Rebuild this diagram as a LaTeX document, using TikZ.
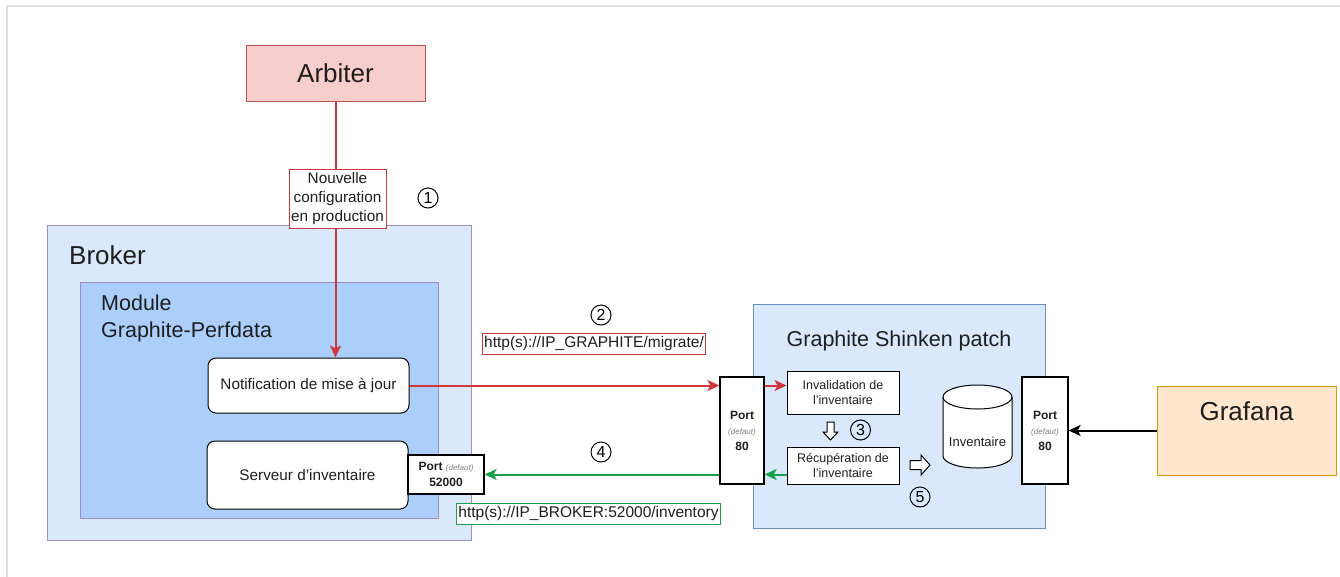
\documentclass[tikz,border=0pt]{standalone}
\usepackage{fontspec}
\setmainfont{Liberation Sans}
\usetikzlibrary{arrows.meta}

\definecolor{txt}{HTML}{1E1E1E}
\definecolor{framegray}{HTML}{E0E0E6}
\definecolor{redline}{HTML}{D0363B}
\definecolor{greenline}{HTML}{17A04C}
\definecolor{arbfill}{HTML}{F8CECC}
\definecolor{arbline}{HTML}{B85450}
\definecolor{brokfill}{HTML}{DAE8FC}
\definecolor{modfill}{HTML}{ABCEFB}
\definecolor{purp}{HTML}{A58BC4}
\definecolor{graphline}{HTML}{6C8EBF}
\definecolor{graffill}{HTML}{FFE6CC}
\definecolor{grafline}{HTML}{D79B00}

\newcommand{\fbig}{\fontsize{26}{31}\selectfont}
\newcommand{\fmid}{\fontsize{21.5}{27}\selectfont}
\newcommand{\fsmall}{\fontsize{15.3}{19}\selectfont}
\newcommand{\fstep}{\fontsize{12.5}{15}\selectfont}
\newcommand{\ptag}{\mdseries\itshape\color{gray}\fontsize{8}{10}\selectfont}

\begin{document}
\begin{tikzpicture}[x=1pt,y=-1pt,>={Stealth[length=12pt,width=11pt,inset=3pt]}]

    \tikzset{
      box/.style={draw, line width=1pt, inner sep=0pt, align=center, text=txt},
      roundbox/.style={box, draw=black, fill=white, rounded corners=8pt, font=\fsmall},
      plainbox/.style={box, draw=black, fill=white, font=\fstep},
      portbox/.style={box, draw=black, fill=white, line width=1.2pt, font=\bfseries\fontsize{12}{15.5}\selectfont},
      urlbox/.style={box, fill=white, inner xsep=2pt, minimum height=21pt, font=\fontsize{15.5}{18}\selectfont},
      num/.style={circle, draw=black, line width=1pt, minimum size=20pt, inner sep=0pt, font=\fontsize{16}{18}\selectfont},
      hollowarrow/.style={draw=black, fill=white, line width=1pt, line join=miter},
      redarrow/.style={draw=redline, line width=2pt, ->, color=redline},
      greenarrow/.style={draw=greenline, line width=2pt, ->, color=greenline},
    }
    \useasboundingbox (0,0) rectangle (1340,576);
    \draw[framegray, line width=2pt] (7,577) -- (7,6) -- (1341,6);

    % containers
    \node[box, draw=purp, fill=brokfill, minimum width=424pt, minimum height=315pt] (broker) at (259,382.5) {};
    \node[box, draw=purp, fill=modfill, minimum width=358pt, minimum height=236pt] (module) at (259,400) {};
    \node[box, draw=graphline, fill=brokfill, minimum width=292pt, minimum height=224pt] (graphite) at (899,416) {};
    \node[text=txt, font=\fbig, anchor=west, inner sep=0pt] (brokerlbl) at (69,255) {Broker};
    \node[text=txt, font=\fmid, anchor=north west, inner sep=0pt, align=left] (modulelbl) at (101,294.5) {Module\\Graphite-Perfdata};
    \node[text=txt, font=\fmid, inner sep=0pt] (graphitelbl) at (899,341) {Graphite Shinken patch};

    % boxes
    \node[box, draw=arbline, fill=arbfill, minimum width=179pt, minimum height=56pt, font=\fbig] (arb) at (335.5,73) {Arbiter};
    \node[roundbox, minimum width=201pt, minimum height=55pt] (notif) at (308.5,385.5) {Notification de mise à jour};
    \node[roundbox, minimum width=201pt, minimum height=68pt] (serv) at (307.5,475) {Serveur d'inventaire};
    \node[portbox, minimum width=76pt, minimum height=39pt] (p52) at (446,474.5) {Port {\ptag (defaut)}\\52000};
    \node[portbox, minimum width=44pt, minimum height=107pt] (p80a) at (742,430.5) {Port\\{\ptag (defaut)}\\80};
    \node[portbox, minimum width=46pt, minimum height=107pt] (p80b) at (1045,430.5) {Port\\{\ptag (defaut)}\\80};
    \node[plainbox, minimum width=112pt, minimum height=43pt] (inval) at (843,392.5) {Invalidation de\\l'inventaire};
    \node[plainbox, minimum width=112pt, minimum height=37pt] (recup) at (843,465.5) {Récupération de\\l'inventaire};
    % database drum
    \draw[black, fill=white, line width=1pt] (943,397) -- (943,456) arc (180:360:34.5pt and 12pt) -- (1012,397) arc (0:180:34.5pt and 12pt) -- cycle;
    \draw[black, line width=1pt] (943,397) arc (180:360:34.5pt and 12pt);
    \node[text=txt, font=\fontsize{13}{15}\selectfont, inner sep=0pt] (inv) at (977.5,442) {Inventaire};
    \node[box, draw=grafline, fill=graffill, minimum width=179pt, minimum height=89pt, text height=19pt, text depth=40pt, font=\fbig] (graf) at (1246.5,430.5) {Grafana};

    % flows
    \draw[redarrow] (arb) -- (arb.south |- notif.north);
    \node[box, draw=redline, fill=white, minimum width=97pt, minimum height=59pt, font=\fsmall] (cfg) at (337.5,198.5) {Nouvelle\\configuration\\en production};
    \draw[redarrow] (notif.east) -- (p80a.west |- notif.east);
    \draw[redarrow] (p80a.east |- notif.east) -- (inval.west |- notif.east);
    \draw[greenarrow] (p80a.west |- p52.east) -- (p52.east);
    \draw[greenarrow] (recup.west |- p52.east) -- (p80a.east |- p52.east);
    \draw[line width=2pt, ->, black] (graf.west) -- (graf.west -| p80b.east);

    \node[urlbox, draw=redline] (url1) at (594,343.5) {http(s)://IP\_GRAPHITE/migrate/};
    \node[urlbox, draw=greenline] (url2) at (588.5,513.5) {http(s)://IP\_BROKER:52000/inventory};

    % steps
    \node[num] (n1) at (428,198) {1};
    \node[num] (n2) at (601,315) {2};
    \node[num] (n3) at (860.5,430) {3};
    \node[num] (n4) at (601,452) {4};
    \node[num] (n5) at (920,497) {5};
    \draw[hollowarrow] (827,422) -- (834,422) -- (834,432) -- (838,432) -- (830.5,440) -- (823,432) -- (827,432) -- cycle;
    \draw[hollowarrow] (910,460.5) -- (921,460.5) -- (921,455) -- (930,465) -- (921,475) -- (921,469.5) -- (910,469.5) -- cycle;

\end{tikzpicture}
\end{document}
